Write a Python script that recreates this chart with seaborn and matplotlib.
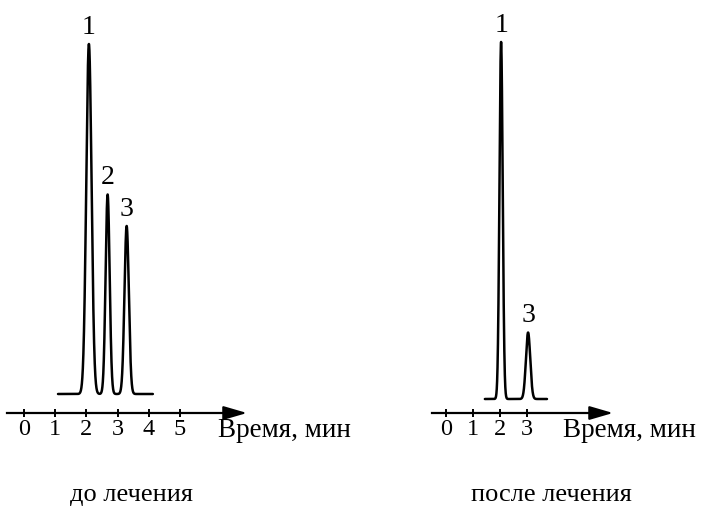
import matplotlib

matplotlib.use("Agg")
import matplotlib.pyplot as plt
import numpy as np
import seaborn as sns

sns.set_theme(style="ticks")
plt.rcParams["font.family"] = ["Liberation Serif", "DejaVu Serif"]
plt.rcParams["text.color"] = "black"

# ---------------------------------------------------------------------------
# Data
# ---------------------------------------------------------------------------

before_times = [2.08, 2.68, 3.29]      # retention time, min
before_heights = [100, 57, 48]         # relative signal
before_sigmas = [0.085, 0.065, 0.07]   # peak width (sigma), min
before_labels = ["1", "2", "3"]
before_span = [1.09, 4.13]
before_ticks = [0, 1, 2, 3, 4, 5]

after_times = [2.04, 3.04]
after_heights = [102, 19]
after_sigmas = [0.06, 0.08]
after_labels = ["1", "3"]
after_span = [1.44, 3.74]
after_ticks = [0, 1, 2, 3]

axis_label = "Время, мин"
titles = ["до лечения", "после лечения"]

# ---------------------------------------------------------------------------
# Layout (pixels of the 706x507 canvas)
# ---------------------------------------------------------------------------

W, H = 706, 507
PX_PER_UNIT = 3.5
AX_BOTTOM_PX = 440

panels = [
    dict(times=before_times, heights=before_heights, sigmas=before_sigmas,
         labels=before_labels, span=before_span, ticks=before_ticks,
         px_left=0, px_right=360, x0=24, ppm=31.2, base=394, axis=413,
         ax_start=7, ax_end=247, lab=218, title_x=132),
    dict(times=after_times, heights=after_heights, sigmas=after_sigmas,
         labels=after_labels, span=after_span, ticks=after_ticks,
         px_left=420, px_right=706, x0=446, ppm=27.0, base=399, axis=413,
         ax_start=432, ax_end=613, lab=563, title_x=551),
]


def to_t(px, p):
    return (px - p["x0"]) / p["ppm"]


def chromatogram(t, times, heights, sigmas):
    """Sum of Gaussian peaks on a flat baseline."""
    y = np.zeros_like(t)
    for c, h, s in zip(times, heights, sigmas):
        y += h * np.exp(-((t - c) ** 2) / (2 * s ** 2))
    return y


def draw_panel(fig, p, title):
    ax = fig.add_axes([p["px_left"] / W, 1 - AX_BOTTOM_PX / H,
                       (p["px_right"] - p["px_left"]) / W, AX_BOTTOM_PX / H])
    ax.set_xlim(to_t(p["px_left"], p), to_t(p["px_right"], p))
    ax.set_ylim((p["base"] - AX_BOTTOM_PX) / PX_PER_UNIT, p["base"] / PX_PER_UNIT)
    axis_y = (p["base"] - p["axis"]) / PX_PER_UNIT

    t = np.linspace(p["span"][0], p["span"][1], 3000)
    signal = chromatogram(t, p["times"], p["heights"], p["sigmas"])
    sns.lineplot(x=t, y=signal, ax=ax, color="black", lw=1.8)

    for c, h, lbl in zip(p["times"], p["heights"], p["labels"]):
        ax.annotate(lbl, (c, h), xytext=(0, 3), textcoords="offset points",
                    ha="center", va="bottom", fontsize=20)

    # time axis with arrow
    for side in ["top", "right", "left"]:
        ax.spines[side].set_visible(False)
    start, end = to_t(p["ax_start"], p), to_t(p["ax_end"], p)
    ax.spines["bottom"].set_position(("data", axis_y))
    ax.spines["bottom"].set_bounds(start, end - 0.3)
    ax.spines["bottom"].set_linewidth(1.6)
    ax.spines["bottom"].set_color("black")
    ax.annotate("", xy=(end, axis_y), xytext=(end - 0.6, axis_y),
                arrowprops=dict(arrowstyle="-|>,head_length=1.2,head_width=0.35",
                                color="black", lw=1.5, shrinkA=0, shrinkB=0))
    ax.set_xticks(p["ticks"])
    ax.set_xticklabels([str(v) for v in p["ticks"]])
    ax.set_yticks([])
    ax.tick_params(axis="x", bottom=True, direction="inout", length=6, width=1.4,
                   pad=1, labelsize=17.5, colors="black")
    ax.set_xlabel("")
    ax.set_ylabel("")
    ax.annotate(axis_label, (to_t(p["lab"], p), axis_y), xytext=(0, -3.9),
                textcoords="offset points", ha="left", va="top", fontsize=19.5)
    ax.patch.set_alpha(0)

    fig.text(p["title_x"] / W, 1 - 495 / H, title, ha="center", va="center",
             fontsize=19)


def main() -> None:
    fig = plt.figure(figsize=(W / 100, H / 100), dpi=100)
    for p, title in zip(panels, titles):
        draw_panel(fig, p, title)
    fig.savefig("out.png", dpi=100)
    plt.close(fig)


if __name__ == "__main__":
    main()
